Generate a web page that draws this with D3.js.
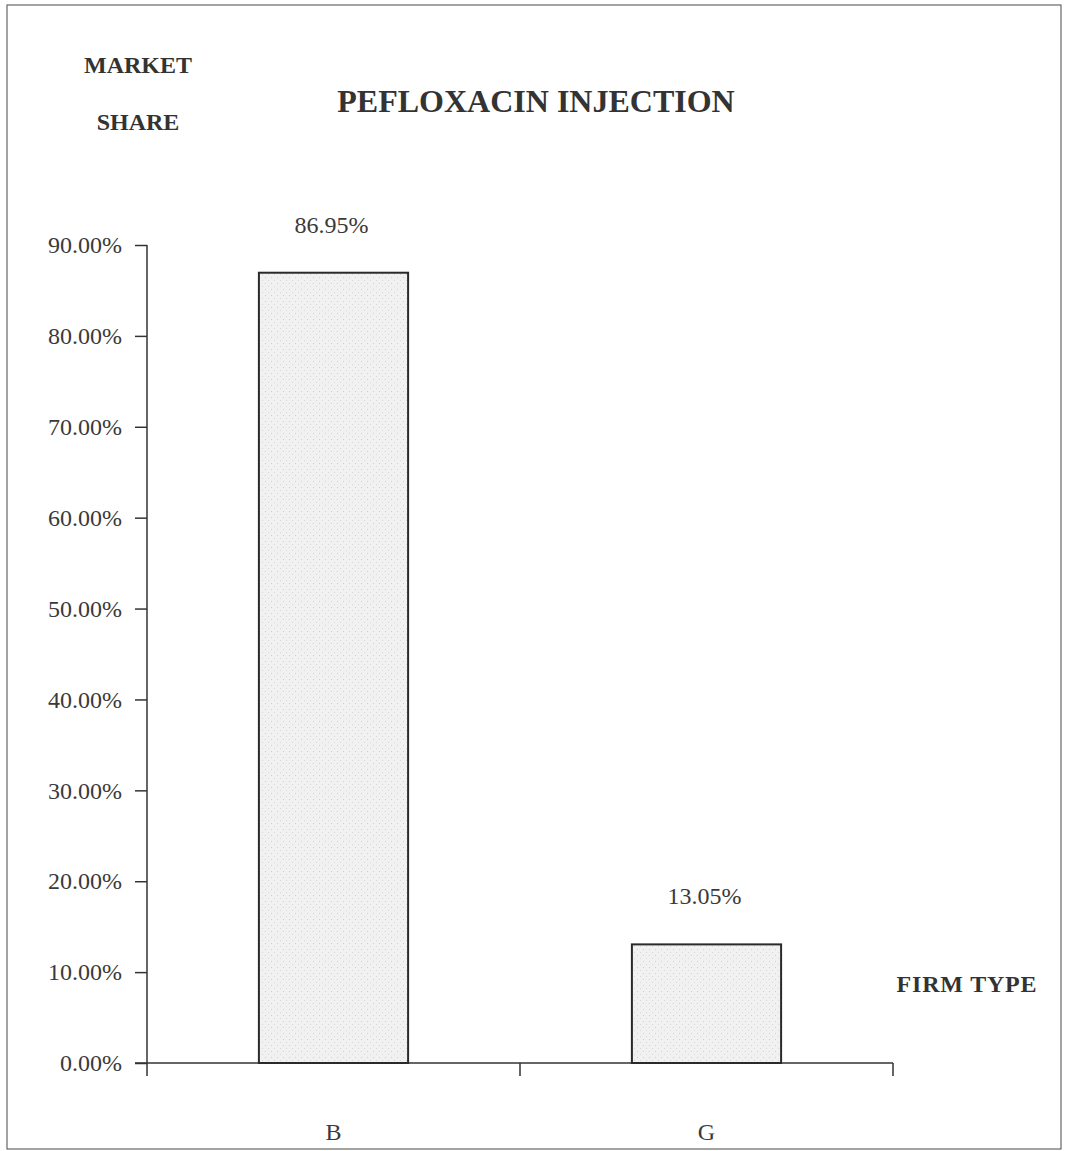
<!DOCTYPE html>
<html>
<head>
<meta charset="utf-8">
<script src="https://cdn.jsdelivr.net/npm/d3@7"></script>
<style>
  body { margin: 0; background: #fff; }
  svg text { font-family: "Liberation Serif", "Times New Roman", serif; fill: #333; }
  .axis path, .axis line { stroke: #333; stroke-width: 1.5; }
  .axis text { font-size: 24px; fill: #3a3a3a; }
</style>
</head>
<body>
<script>
(function(){

    //chart data
    var firmTypes = ["B", "G"];
    var marketShare = [86.95, 13.05];
    var shareTicks = [0, 10, 20, 30, 40, 50, 60, 70, 80, 90];

    var width = 1068,
        height = 1151;

    //plot frame
    var plotLeft = 147,
        plotRight = 893,
        plotTop = 245,
        plotBottom = 1063;

    var svg = d3.select("body")
        .append("svg")
        .attr("width", width)
        .attr("height", height);

    //light stipple texture for bars
    var defs = svg.append("defs");
    var pattern = defs.append("pattern")
        .attr("id", "stipple")
        .attr("width", 6)
        .attr("height", 6)
        .attr("patternUnits", "userSpaceOnUse");
    pattern.append("rect")
        .attr("width", 6)
        .attr("height", 6)
        .attr("fill", "#f1f1f1");
    pattern.append("rect").attr("x", 1).attr("y", 1).attr("width", 1).attr("height", 1).attr("fill", "#cfcfcf");
    pattern.append("rect").attr("x", 4).attr("y", 4).attr("width", 1).attr("height", 1).attr("fill", "#d8d8d8");

    //outer frame
    svg.append("rect")
        .attr("x", 7)
        .attr("y", 5)
        .attr("width", 1054)
        .attr("height", 1144)
        .attr("fill", "none")
        .attr("stroke", "#666")
        .attr("stroke-width", 1.2);

    var x = d3.scaleBand()
        .domain(firmTypes)
        .range([plotLeft, plotRight]);

    var y = d3.scaleLinear()
        .domain([0, 90])
        .range([plotBottom, plotTop]);

    var barWidth = x.bandwidth() * 0.4;

    //y axis
    var yAxis = d3.axisLeft(y)
        .tickValues(shareTicks)
        .tickSize(12)
        .tickPadding(13)
        .tickFormat(function(d){ return d.toFixed(2) + "%"; });

    svg.append("g")
        .attr("class", "axis")
        .attr("transform", "translate(" + plotLeft + ",0)")
        .call(yAxis)
        .call(function(g){ g.select(".domain").attr("d", "M0," + plotTop + "V" + plotBottom); });

    //x axis: ticks at band boundaries
    var xg = svg.append("g")
        .attr("class", "axis");
    xg.append("line")
        .attr("x1", plotLeft - 12)
        .attr("x2", plotRight)
        .attr("y1", plotBottom)
        .attr("y2", plotBottom);
    var bounds = firmTypes.map(function(d){ return x(d); }).concat([x.range()[1]]);
    xg.selectAll(".xtick")
        .data(bounds)
        .enter()
        .append("line")
        .attr("class", "xtick")
        .attr("x1", function(d){ return d; })
        .attr("x2", function(d){ return d; })
        .attr("y1", plotBottom)
        .attr("y2", plotBottom + 13);
    xg.selectAll(".xlabel")
        .data(firmTypes)
        .enter()
        .append("text")
        .attr("class", "xlabel")
        .attr("x", function(d){ return x(d) + x.bandwidth() / 2; })
        .attr("y", plotBottom + 77)
        .attr("text-anchor", "middle")
        .style("font-size", "24px")
        .text(function(d){ return d; });

    //bars
    svg.selectAll(".bar")
        .data(marketShare)
        .enter()
        .append("rect")
        .attr("class", "bar")
        .attr("x", function(d, i){ return x(firmTypes[i]) + (x.bandwidth() - barWidth) / 2; })
        .attr("width", barWidth)
        .attr("y", function(d){ return y(d); })
        .attr("height", function(d){ return plotBottom - y(d); })
        .attr("fill", "url(#stipple)")
        .attr("stroke", "#2a2a2a")
        .attr("stroke-width", 2);

    //value labels
    svg.selectAll(".valLabel")
        .data(marketShare)
        .enter()
        .append("text")
        .attr("class", "valLabel")
        .attr("x", function(d, i){ return x(firmTypes[i]) + x.bandwidth() / 2 - 2; })
        .attr("y", function(d){ return y(d) - 40; })
        .attr("text-anchor", "middle")
        .style("font-size", "24px")
        .style("fill", "#3a3a3a")
        .text(function(d){ return d.toFixed(2) + "%"; });

    //titles
    svg.append("text")
        .attr("x", 536)
        .attr("y", 112)
        .attr("text-anchor", "middle")
        .style("font-size", "32px")
        .style("font-weight", "bold")
        .text("PEFLOXACIN INJECTION");

    svg.append("text")
        .attr("x", 138)
        .attr("y", 73)
        .attr("text-anchor", "middle")
        .style("font-size", "24px")
        .style("font-weight", "bold")
        .text("MARKET");

    svg.append("text")
        .attr("x", 138)
        .attr("y", 130)
        .attr("text-anchor", "middle")
        .style("font-size", "24px")
        .style("font-weight", "bold")
        .text("SHARE");

    svg.append("text")
        .attr("x", 967)
        .attr("y", 992)
        .attr("text-anchor", "middle")
        .style("font-size", "24px")
        .style("font-weight", "bold")
        .style("letter-spacing", "0.8px")
        .text("FIRM TYPE");
})();
</script>
</body>
</html>
